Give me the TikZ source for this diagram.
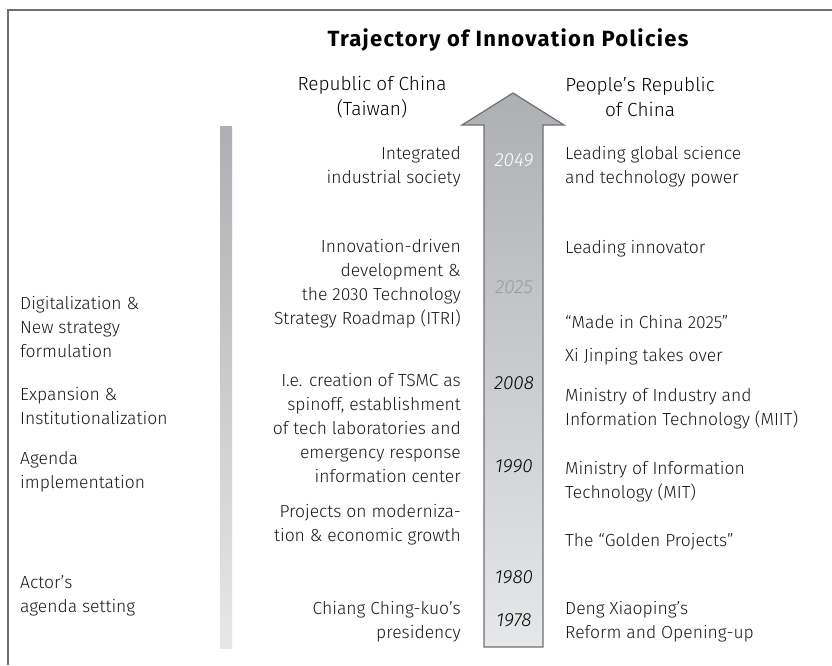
\documentclass[tikz,border=0pt]{standalone}
\usepackage{fontspec}
\setmainfont{Fira Sans}[UprightFont={* Light}, ItalicFont={* Light Italic}, BoldFont={* Bold}]
\definecolor{shadedark}{HTML}{AEAFB2}
\definecolor{shadelight}{HTML}{E6E7E8}
\definecolor{edgegray}{HTML}{6E6F71}
\definecolor{yeargray}{HTML}{9A9B9D}
\begin{document}
\begin{tikzpicture}[x=1pt,y=-1pt]
    % Define the styles for the texts
    \tikzstyle{body}=[inner sep=0pt, font=\fontsize{17.5}{24}\selectfont, text=black!90]
    \tikzstyle{policy}=[body, anchor=east, align=right]
    \tikzstyle{milestone}=[body, anchor=west, align=left]
    \tikzstyle{phase}=[body, anchor=west, align=left]
    \tikzstyle{heading}=[inner sep=0pt, align=center, font=\fontsize{19}{25}\selectfont]
    \tikzstyle{year}=[inner sep=0pt, font=\fontsize{19}{24}\selectfont\itshape]

    \useasboundingbox (0,0) rectangle (832,665);

    % Draw the frame
    \draw[edgegray, line width=1.5pt] (832,10) -- (8,10) -- (8,665);

    % Draw the title and the headings
    \node[heading, font=\fontsize{22}{25}\selectfont\bfseries\addfontfeatures{LetterSpace=6}] (title) at (508,40) {Trajectory of Innovation Policies};
    \node[heading] (taiwan) at (372,97) {Republic of China\\(Taiwan)};
    \node[heading] (prc) at (640,97) {People's Republic\\of China};

    % Draw the phase bar and the time arrow
    \shade[top color=shadedark, bottom color=shadelight] (220,126) rectangle (232,648);
    \shade[top color=shadedark, bottom color=shadelight, draw=edgegray, line width=1.2pt]
        (484,647) -- (484,125) -- (462,125) -- (513,93) -- (564,125) -- (543,125) -- (543,647) -- cycle;

    % Draw the years
    \node[year, text=white] (y2049) at (514,160) {2049};
    \node[year, text=yeargray] (y2025) at (514,287) {2025};
    \node[year] (y2008) at (514,383) {2008};
    \node[year] (y1990) at (514,466) {1990};
    \node[year] (y1980) at (514,577) {1980};
    \node[year] (y1978) at (514,620) {1978};

    % Draw the phases
    \node[phase] (digitalization) at (20,327) {Digitalization \&\\New strategy\\formulation};
    \node[phase] (expansion) at (20,406) {Expansion \&\\Institutionalization};
    \node[phase] (agenda) at (20,472) {Agenda\\implementation};
    \node[phase] (actor) at (20,596) {Actor's\\agenda setting};

    % Draw the policies of Taiwan
    \node[policy] (integrated) at (461,167) {Integrated\\industrial society};
    \node[policy] (innovation) at (461,284) {Innovation-driven\\development \&\\the 2030 Technology\\Strategy Roadmap (ITRI)};
    \node[policy] (tsmc) at (461,428) {I.e. creation of TSMC as\\spinoff, establishment\\of tech laboratories and\\emergency response\\information center};
    \node[policy] (modernization) at (461,525) {Projects on moderniza-\\tion \& economic growth};
    \node[policy] (chiang) at (461,622) {Chiang Ching-kuo's\\presidency};

    % Draw the policies of the PRC
    \node[milestone] (science) at (565,167) {Leading global science\\and technology power};
    \node[milestone] (innovator) at (565,249) {Leading innovator};
    \node[milestone] (made_in_china) at (565,322) {“Made in China 2025”};
    \node[milestone] (xi) at (565,357) {Xi Jinping takes over};
    \node[milestone] (miit) at (565,409) {Ministry of Industry and\\Information Technology (MIIT)};
    \node[milestone] (mit) at (565,482) {Ministry of Information\\Technology (MIT)};
    \node[milestone] (golden) at (565,542) {The “Golden Projects”};
    \node[milestone] (deng) at (565,622) {Deng Xiaoping's\\Reform and Opening-up};
\end{tikzpicture}
\end{document}
